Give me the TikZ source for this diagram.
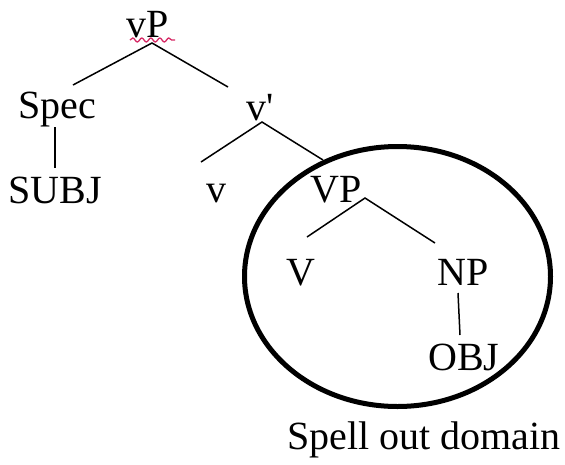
\documentclass[tikz,border=0pt]{standalone}
\usepackage{fontspec}
\setmainfont{Liberation Serif}
\usetikzlibrary{decorations.pathmorphing}
\definecolor{squig}{RGB}{214,40,100}
\begin{document}
\begin{tikzpicture}[x=1pt,y=-1pt,
  lab/.style={anchor=base,inner sep=0pt,font=\fontsize{40}{44}\selectfont},
  branch/.style={line width=1.5pt},
  spellring/.style={line width=5pt}]
\useasboundingbox (0,0) rectangle (565,464);
% labels
\node[lab] (vP) at (148,37) {vP};
\node[lab] (Spec) at (57,118) {Spec};
\node[lab] (vbar) at (260,120) {v\textquotesingle};
\node[lab] (SUBJ) at (55,203) {SUBJ};
\node[lab] (v) at (216,202) {v};
\node[lab] (VP) at (336,202) {VP};
\node[lab] (V) at (301,285) {V};
\node[lab] (NP) at (463,285) {NP};
\node[lab] (OBJ) at (464,370) {OBJ};
\node[lab] (dom) at (424,449) {Spell out domain};
% squiggle under vP
\draw[squig,line width=1.3pt,decorate,decoration={snake,amplitude=2pt,segment length=9pt}] (130,40) -- (175,40);
% tree branches
\coordinate (vPb) at (152,43);
\coordinate (SpecT) at (73,85);
\coordinate (vbarT) at (228,87);
\coordinate (vbarB) at (262,122);
\coordinate (vT) at (201,162);
\coordinate (VPT) at (323,160);
\coordinate (SpecB) at (55,127);
\coordinate (SUBJT) at (55,168);
\coordinate (VPb) at (365,198);
\coordinate (VT) at (307,237);
\coordinate (NPT) at (435,243);
\coordinate (NPb) at (458,293);
\coordinate (OBJT) at (460,335);
\draw[branch] (SpecT) -- (vPb) -- (vbarT);
\draw[branch] (vT) -- (vbarB) -- (VPT);
\draw[branch] (SpecB) -- (SUBJT);
\draw[branch] (VT) -- (VPb) -- (NPT);
\draw[branch] (NPb) -- (OBJT);
% domain ellipse
\draw[spellring] (397.5,276.5) ellipse [x radius=153, y radius=130];
\end{tikzpicture}
\end{document}
